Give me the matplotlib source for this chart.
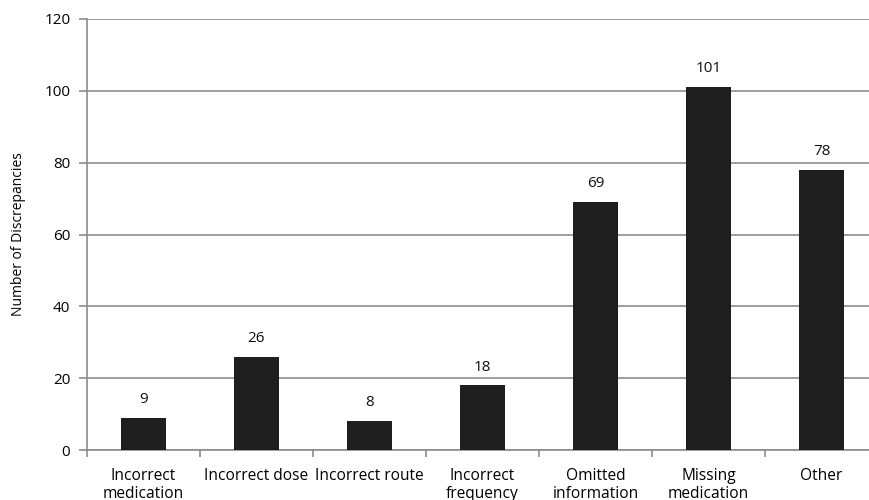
import matplotlib
matplotlib.use('Agg')
import matplotlib.pyplot as plt

categories = ['Incorrect\nmedication', 'Incorrect dose', 'Incorrect route',
              'Incorrect\nfrequency', 'Omitted\ninformation', 'Missing\nmedication', 'Other']
counts = [9, 26, 8, 18, 69, 101, 78]
yticks = [0, 20, 40, 60, 80, 100, 120]

plt.rcParams['font.family'] = ['Open Sans', 'DejaVu Sans']

fig = plt.figure(figsize=(8.69, 5), dpi=100)
# plot extends slightly past the right edge, as in the source crop
ax = fig.add_axes([87 / 869, 50 / 500, 791 / 869, 431 / 500])

x = list(range(len(categories)))
bars = ax.bar(x, counts, width=0.4, color='#1e1e1e', zorder=3)
for xi, v in zip(x, counts):
    ax.text(xi, v + 3, str(v), ha='center', va='bottom', fontsize=11, color='#111111')

ax.set_xlim(-0.5, len(categories) - 0.5)
ax.set_ylim(0, 120)
ax.set_yticks(yticks)
ax.yaxis.grid(True, color='#8c8c8c', linewidth=1.2, zorder=0)
ax.set_axisbelow(True)

ax.set_xticks([i + 0.5 for i in range(-1, len(categories))], minor=False)
ax.set_xticklabels([])
ax.set_xticks(x, minor=True)
ax.set_xticklabels(categories, minor=True, fontsize=11.2, linespacing=1.15)
ax.tick_params(axis='x', which='minor', length=0, pad=13)
ax.tick_params(axis='x', which='major', length=5, color='#8c8c8c', width=1.2)
ax.tick_params(axis='y', length=6, color='#8c8c8c', width=1.2, labelsize=11, pad=6)

for s in ['top', 'right']:
    ax.spines[s].set_visible(False)
for s in ['left', 'bottom']:
    ax.spines[s].set_color('#8c8c8c')
    ax.spines[s].set_linewidth(1.2)

ax.set_ylabel('Number of Discrepancies', fontsize=10, labelpad=13)

fig.savefig('out.png', dpi=100)
